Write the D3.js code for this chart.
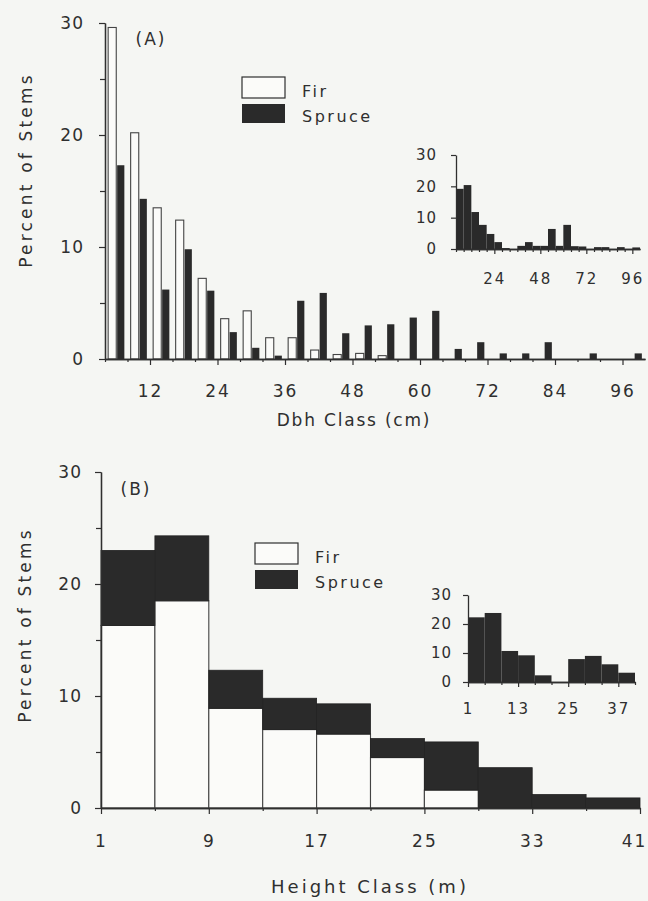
<!DOCTYPE html>
<html>
<head>
<meta charset="utf-8">
<script src="https://cdnjs.cloudflare.com/ajax/libs/d3/7.8.5/d3.min.js"></script>
<style>
body { margin: 0; background: #f5f6f3; }
svg { display: block; }
</style>
</head>
<body>
<div id="chart"></div>
<script>
// ---- data ----
// (A) diameter classes, 4 cm wide, lower bound of each class
var dbhClass = [4, 8, 12, 16, 20, 24, 28, 32, 36, 40, 44, 48, 52, 56, 60, 64, 68, 72, 76, 80, 84, 88, 92, 96];
var firDbh = [29.6, 20.2, 13.5, 12.4, 7.2, 3.6, 4.3, 1.9, 1.9, 0.8, 0.4, 0.5, 0.3, 0, 0, 0, 0, 0, 0, 0, 0, 0, 0, 0];
var spruceDbh = [17.3, 14.3, 6.2, 9.8, 6.1, 2.4, 1.0, 0.3, 5.2, 5.9, 2.3, 3.0, 3.1, 3.7, 4.3, 0.9, 1.5, 0.5, 0.5, 1.5, 0, 0.5, 0, 0.5];
var insetDbh = [19.2, 20.4, 11.8, 7.7, 4.8, 2.2, 0.3, 0, 1.0, 2.2, 1.0, 1.0, 6.4, 1.0, 7.7, 0.9, 0.8, 0, 0.6, 0.6, 0, 0.6, 0, 0.5];
var dbhTicks = [12, 24, 36, 48, 60, 72, 84, 96];
var dbhInsetTicks = [24, 48, 72, 96];

// (B) height classes, 4 m wide, lower bound of each class
var heightClass = [1, 5, 9, 13, 17, 21, 25, 29, 33, 37];
var firHeight = [16.3, 18.5, 8.9, 7.0, 6.6, 4.5, 1.6, 0, 0, 0];
var spruceHeight = [6.7, 5.8, 3.4, 2.8, 2.7, 1.7, 4.3, 3.6, 1.2, 0.9];
var insetHeight = [22.3, 23.8, 10.7, 9.2, 2.3, 0, 7.9, 9.0, 6.1, 3.2];
var heightTicks = [1, 9, 17, 25, 33, 41];
var heightInsetTicks = [1, 13, 25, 37];

var pctTicks = [0, 10, 20, 30];
var pctMinor = [5, 15, 25];
var classWidth = 4;

var ink = "#2f2f2f", dark = "#2a2a2a", paper = "#fbfbf9";
var font = "'DejaVu Sans', sans-serif";

var svg = d3.select("#chart").append("svg")
    .attr("width", 648)
    .attr("height", 901);

svg.append("rect").attr("width", 648).attr("height", 901).attr("fill", "#f5f6f3");

// style an axis group
function styleAxis(g, size, spacing) {
  g.attr("font-family", font);
  g.select(".domain").attr("stroke", ink).attr("stroke-width", 1.3);
  g.selectAll(".tick line").attr("stroke", ink).attr("stroke-width", 1.2);
  g.selectAll(".tick text")
    .attr("fill", ink)
    .style("font-size", size + "px")
    .style("letter-spacing", spacing + "px");
}

function drawAxes(x, y, xMajor, xMinor, opt) {
  var gy = svg.append("g")
      .attr("transform", "translate(" + x.range()[0] + ",0)")
      .call(d3.axisLeft(y).tickValues(pctTicks).tickSize(opt.tick).tickSizeOuter(0).tickPadding(opt.yPad));
  styleAxis(gy, opt.size, 1);
  if (opt.yMinor) {
    var gm = svg.append("g")
        .attr("transform", "translate(" + x.range()[0] + ",0)")
        .call(d3.axisLeft(y).tickValues(pctMinor).tickSize(opt.tick - 1).tickSizeOuter(0).tickFormat(""));
    styleAxis(gm, opt.size, 1);
  }
  var gx = svg.append("g")
      .attr("transform", "translate(0," + y(0) + ")")
      .call(d3.axisBottom(x).tickValues(xMajor).tickSize(opt.tick).tickSizeOuter(0).tickPadding(opt.xPad));
  styleAxis(gx, opt.size, opt.xSpacing);
  var gxm = svg.append("g")
      .attr("transform", "translate(0," + y(0) + ")")
      .call(d3.axisBottom(x).tickValues(xMinor).tickSize(3).tickSizeOuter(0).tickFormat(""));
  styleAxis(gxm, opt.size, 1);
  return gx;
}

function label(txt, x, y, size, spacing, rotate) {
  var t = svg.append("text")
      .attr("font-family", font)
      .attr("fill", ink)
      .style("font-size", size + "px")
      .style("letter-spacing", spacing + "px")
      .attr("text-anchor", "middle")
      .text(txt);
  if (rotate) t.attr("transform", "translate(" + x + "," + y + ") rotate(-90)");
  else t.attr("x", x).attr("y", y);
  return t;
}

function legend(x, y) {
  svg.append("rect").attr("x", x).attr("y", y).attr("width", 43).attr("height", 21)
    .attr("fill", paper).attr("stroke", ink).attr("stroke-width", 1.2);
  svg.append("rect").attr("x", x).attr("y", y + 27).attr("width", 43).attr("height", 19)
    .attr("fill", dark);
  svg.append("text").attr("x", x + 60).attr("y", y + 20).attr("font-family", font).attr("fill", ink)
    .style("font-size", "16px").style("letter-spacing", "2.5px").text("Fir");
  svg.append("text").attr("x", x + 60).attr("y", y + 45).attr("font-family", font).attr("fill", ink)
    .style("font-size", "16px").style("letter-spacing", "2.5px").text("Spruce");
}

// ================= Panel A =================
var xA = d3.scaleLinear().domain([4, 100]).range([105, 645]);
var yA = d3.scaleLinear().domain([0, 30]).range([359, 23]);

var dbhRows = dbhClass.map(function(c, i) {
  return { lo: c, fir: firDbh[i], spruce: spruceDbh[i], inset: insetDbh[i] };
});

svg.selectAll(".firA")
    .data(dbhRows.filter(function(d) { return d.fir > 0; }))
  .enter().append("rect")
    .attr("class", "firA")
    .attr("x", function(d) { return xA(d.lo) + 0.14 * (xA(d.lo + classWidth) - xA(d.lo)); })
    .attr("width", function(d) { return 0.36 * (xA(d.lo + classWidth) - xA(d.lo)); })
    .attr("y", function(d) { return yA(d.fir); })
    .attr("height", function(d) { return yA(0) - yA(d.fir); })
    .attr("fill", paper)
    .attr("stroke", "#444")
    .attr("stroke-width", 1.1);

svg.selectAll(".spruceA")
    .data(dbhRows.filter(function(d) { return d.spruce > 0; }))
  .enter().append("rect")
    .attr("class", "spruceA")
    .attr("x", function(d) { return xA(d.lo) + 0.54 * (xA(d.lo + classWidth) - xA(d.lo)); })
    .attr("width", function(d) { return 0.32 * (xA(d.lo + classWidth) - xA(d.lo)); })
    .attr("y", function(d) { return yA(d.spruce); })
    .attr("height", function(d) { return yA(0) - yA(d.spruce); })
    .attr("fill", dark);

drawAxes(xA, yA, dbhTicks, dbhClass.filter(function(c) { return dbhTicks.indexOf(c) < 0; }),
  { tick: 6, yPad: 15, xPad: 20, size: 17, xSpacing: 2, yMinor: true });

label("(A)", 151, 45, 17, 2);
legend(242, 77);
label("Dbh Class (cm)", 354, 426, 17, 1.8);
label("Percent of Stems", 32, 170, 17, 3.2, true);

// inset A: all stems
var xIA = d3.scaleLinear().domain([4, 100]).range([456, 640]);
var yIA = d3.scaleLinear().domain([0, 30]).range([249, 155]);

svg.selectAll(".insetA")
    .data(dbhRows.filter(function(d) { return d.inset > 0; }))
  .enter().append("rect")
    .attr("class", "insetA")
    .attr("x", function(d) { return xIA(d.lo); })
    .attr("width", function(d) { return xIA(d.lo + classWidth) - xIA(d.lo); })
    .attr("y", function(d) { return yIA(d.inset); })
    .attr("height", function(d) { return yIA(0) - yIA(d.inset); })
    .attr("fill", dark);

drawAxes(xIA, yIA, dbhInsetTicks, dbhClass.filter(function(c) { return dbhInsetTicks.indexOf(c) < 0; }),
  { tick: 5, yPad: 14, xPad: 19, size: 15, xSpacing: 2, yMinor: false });

// ================= Panel B =================
var xB = d3.scaleLinear().domain([1, 41]).range([101, 640]);
var yB = d3.scaleLinear().domain([0, 30]).range([808, 472]);

var heightRows = heightClass.map(function(c, i) {
  return { lo: c, fir: firHeight[i], spruce: spruceHeight[i], inset: insetHeight[i] };
});

svg.selectAll(".firB")
    .data(heightRows.filter(function(d) { return d.fir > 0; }))
  .enter().append("rect")
    .attr("class", "firB")
    .attr("x", function(d) { return xB(d.lo); })
    .attr("width", function(d) { return xB(d.lo + classWidth) - xB(d.lo); })
    .attr("y", function(d) { return yB(d.fir); })
    .attr("height", function(d) { return yB(0) - yB(d.fir); })
    .attr("fill", paper)
    .attr("stroke", "#444")
    .attr("stroke-width", 1.1);

svg.selectAll(".spruceB")
    .data(heightRows)
  .enter().append("rect")
    .attr("class", "spruceB")
    .attr("x", function(d) { return xB(d.lo); })
    .attr("width", function(d) { return xB(d.lo + classWidth) - xB(d.lo); })
    .attr("y", function(d) { return yB(d.fir + d.spruce); })
    .attr("height", function(d) { return yB(d.fir) - yB(d.fir + d.spruce); })
    .attr("fill", dark)
    .attr("stroke", "#222")
    .attr("stroke-width", 0.8);

var gxB = drawAxes(xB, yB, heightTicks, heightClass.filter(function(c) { return heightTicks.indexOf(c) < 0; }),
  { tick: 6, yPad: 13, xPad: 21, size: 17, xSpacing: 2, yMinor: true });
// keep the last label inside the page
gxB.selectAll(".tick text").filter(function(d) { return d === 41; }).attr("dx", "-6");

label("(B)", 136, 495, 17, 2);
legend(255, 543);
label("Height Class (m)", 370, 893, 18, 3);
label("Percent of Stems", 31, 625, 17, 3.2, true);

// inset B: all stems
var xIB = d3.scaleLinear().domain([1, 41]).range([468, 635]);
var yIB = d3.scaleLinear().domain([0, 30]).range([682, 595]);

svg.selectAll(".insetB")
    .data(heightRows.filter(function(d) { return d.inset > 0; }))
  .enter().append("rect")
    .attr("class", "insetB")
    .attr("x", function(d) { return xIB(d.lo); })
    .attr("width", function(d) { return xIB(d.lo + classWidth) - xIB(d.lo); })
    .attr("y", function(d) { return yIB(d.inset); })
    .attr("height", function(d) { return yIB(0) - yIB(d.inset); })
    .attr("fill", dark);

drawAxes(xIB, yIB, heightInsetTicks, heightClass.filter(function(c) { return heightInsetTicks.indexOf(c) < 0; }).concat([41]),
  { tick: 5, yPad: 11, xPad: 16, size: 15, xSpacing: 2, yMinor: false });
</script>
</body>
</html>
